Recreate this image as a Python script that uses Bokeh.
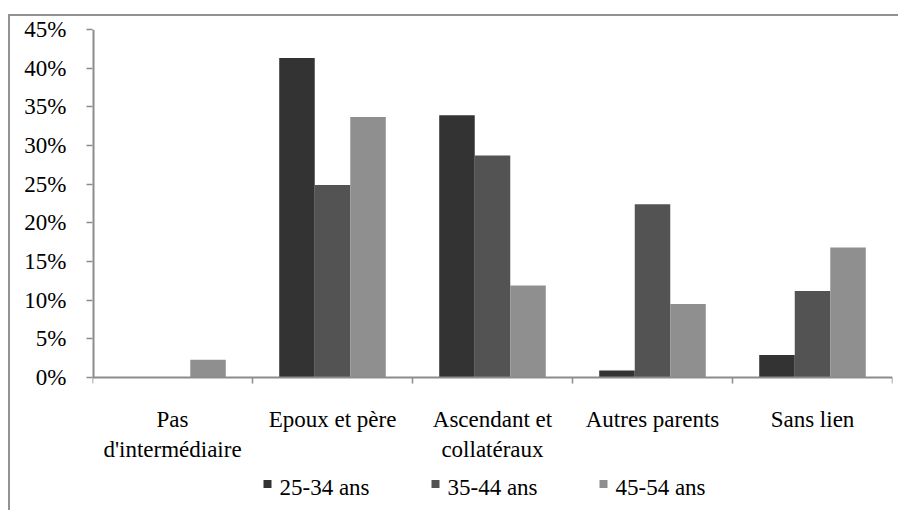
import math
from bokeh.plotting import figure
from bokeh.models import (ColumnDataSource, Range1d, FixedTicker, NumeralTickFormatter, Span)
from bokeh.core.properties import value
from bokeh.transform import dodge
from bokeh.embed import file_html
from bokeh.resources import INLINE

categories = ["Pas\nd'intermédiaire", "Epoux et père", "Ascendant et\ncollatéraux", "Autres parents", "Sans lien"]
series_names = ["25-34 ans", "35-44 ans", "45-54 ans"]
v_25_34 = [0.0, 0.413, 0.339, 0.009, 0.029]
v_35_44 = [0.0, 0.249, 0.287, 0.224, 0.112]
v_45_54 = [0.023, 0.337, 0.119, 0.095, 0.168]
y_ticks = [0.0, 0.05, 0.10, 0.15, 0.20, 0.25, 0.30, 0.35, 0.40, 0.45]

colors = ["#333333", "#535353", "#8f8f8f"]
FONT = "'Liberation Serif', 'Times New Roman', serif"
GRAY = "#8c8c8c"
FS = "23px"

n = len(categories)
idx = list(range(n))
centers = [i + 0.5 for i in idx]
boundaries = list(range(n + 1))

# layout (screen px)
FRAME_W = 800
VALUE_H = 348            # px from 0% to 45%
BELOW_H = 128            # px of frame below the 0 line
Y_MAX = 0.45
Y_MIN = -Y_MAX * BELOW_H / VALUE_H
PX_X = n / FRAME_W       # data units per px (x)
PX_Y = Y_MAX / VALUE_H   # data units per px (y)

source = ColumnDataSource(data=dict(pos=idx, a=v_25_34, b=v_35_44, c=v_45_54))

p = figure(x_range=Range1d(0, n), y_range=Range1d(Y_MIN, Y_MAX),
           width=890, height=496, output_backend="svg", toolbar_location=None,
           x_axis_location=None, min_border_left=82, min_border_right=8,
           min_border_top=13, min_border_bottom=7)
p.styles = {"margin-top": "14px", "margin-left": "8px",
            "border-top": "2px solid #929292", "border-left": "2px solid #929292"}
p.outline_line_color = None
p.xgrid.grid_line_color = None
p.ygrid.grid_line_color = None

w = 0.222
for key, off, col in zip(["a", "b", "c"], [-w, 0, w], colors):
    p.vbar(x=dodge("pos", 0.5 + off), top=key, width=w, bottom=0,
           source=source, fill_color=col, line_color=None)

# y axis
yax = p.yaxis[0]
yax.ticker = FixedTicker(ticks=y_ticks)
yax.formatter = NumeralTickFormatter(format="0%")
yax.axis_line_color = None
yax.major_tick_line_color = GRAY
yax.major_tick_line_width = 1.5
yax.major_tick_out = 6
yax.major_tick_in = 0
yax.minor_tick_line_color = None
yax.major_label_standoff = 20
yax.major_label_text_font = FONT
yax.major_label_text_font_size = FS
yax.major_label_text_color = "#000000"
p.segment(x0=0, y0=0, x1=0, y1=Y_MAX, line_color=GRAY, line_width=4)

# x axis line + boundary ticks
p.add_layout(Span(location=0, dimension="width", line_color=GRAY, line_width=2))
p.ray(x=boundaries, y=[0] * len(boundaries), length=6, length_units="screen",
      angle=-math.pi / 2, line_color=GRAY, line_width=1.5)

# category labels
p.text(x=centers, y=[0] * n, text=categories, text_align="center", text_baseline="top",
       y_offset=29, text_font=value(FONT), text_font_size=value(FS), text_color="#000000",
       text_line_height=1.2)

# legend (manual)
LEG_X0 = 175     # px from frame left to first square centre
LEG_STEP = 168
LEG_SQ_Y = 106.5  # px below 0 line
LEG_TXT_Y = 110
sq_x = [(LEG_X0 + LEG_STEP * i) * PX_X for i in range(len(series_names))]
tx_x = [(LEG_X0 + 12 + LEG_STEP * i) * PX_X for i in range(len(series_names))]
p.rect(x=sq_x, y=[-LEG_SQ_Y * PX_Y] * len(series_names), width=8, height=8,
       width_units="screen", height_units="screen", fill_color=colors, line_color=None)
p.text(x=tx_x, y=[0] * len(series_names), text=series_names, text_align="left",
       text_baseline="alphabetic", y_offset=LEG_TXT_Y, text_font=value(FONT),
       text_font_size=value(FS), text_color="#000000")

open("out.html", "w").write(file_html(p, INLINE))
